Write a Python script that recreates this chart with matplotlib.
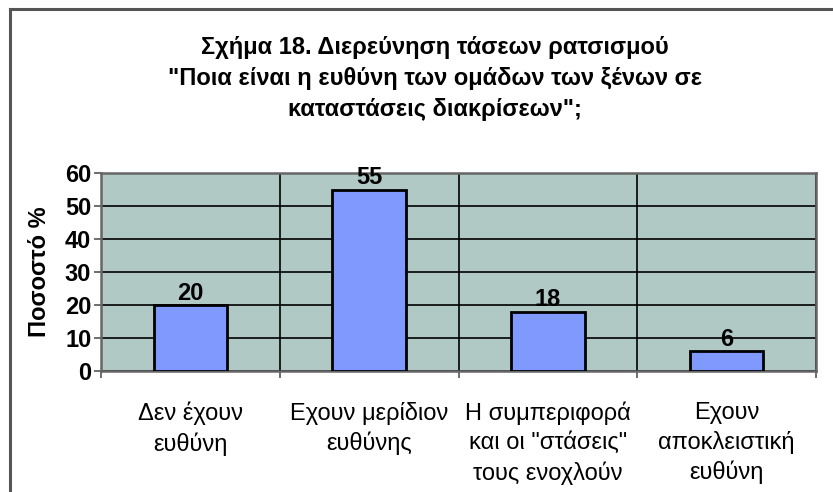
import matplotlib.pyplot as plt
import numpy as np

plt.rcParams['font.family'] = ['Liberation Sans', 'DejaVu Sans']

# Data
categories = ['Δεν έχουν\nευθύνη', 'Εχουν μερίδιον\nευθύνης',
              'Η συμπεριφορά\nκαι οι "στάσεις"\nτους ενοχλούν', 'Εχουν\nαποκλειστική\nευθύνη']
values = [20, 55, 18, 6]
yticks = [0, 10, 20, 30, 40, 50, 60]
title = ('Σχήμα 18. Διερεύνηση τάσεων ρατσισμού\n'
         '"Ποια είναι η ευθύνη των ομάδων των ξένων σε\n'
         'καταστάσεις διακρίσεων";')

fig = plt.figure(figsize=(8.33, 4.92), dpi=100)
ax = fig.add_axes([101 / 833, 1 - 371 / 492, 715 / 833, 198 / 492])

x = np.arange(len(values))
ax.bar(x, values, width=0.41, color='#8099ff', edgecolor='black', linewidth=2, zorder=3)
for xi, v in zip(x, values):
    ax.text(xi, v + 0.1, str(v), ha='center', va='bottom', fontsize=17, fontweight='bold', zorder=4)

ax.set_facecolor('#b0c9c5')
ax.set_xlim(-0.5, len(values) - 0.5)
ax.set_ylim(0, 60)
ax.set_yticks(yticks)
ax.set_yticklabels([str(t) for t in yticks], fontsize=17, fontweight='bold')
ax.tick_params(axis='y', length=5, width=1.2, color='#555555', pad=2)

# category boundaries as x ticks, labels drawn separately
ax.set_xticks(np.arange(len(values) + 1) - 0.5)
ax.set_xticklabels([])
ax.tick_params(axis='x', length=5, width=1.2, color='#555555')
for xi, lab in zip(x, categories):
    ax.text(xi, -0.155, lab, transform=ax.get_xaxis_transform(), ha='center', va='top',
            fontsize=17, linespacing=1.38)

ax.grid(True, color='black', linewidth=1.2, zorder=1)
ax.set_axisbelow(True)
for s in ax.spines.values():
    s.set_color('#666666')
    s.set_linewidth(1.8)

ax.set_ylabel('Ποσοστό %', fontsize=17, fontweight='bold', labelpad=10)

fig.text(435 / 833, 1 - 36 / 492, title, ha='center', va='top', fontsize=17,
         fontweight='bold', linespacing=1.45)

# figure frame (top and left edges)
fig.add_artist(plt.Line2D([10 / 833, 10 / 833], [0, 1 - 9 / 492], transform=fig.transFigure,
                          color='#555555', linewidth=2.2))
fig.add_artist(plt.Line2D([10 / 833, 1], [1 - 9 / 492, 1 - 9 / 492], transform=fig.transFigure,
                          color='#555555', linewidth=2.2))

fig.savefig('out.png', dpi=100)
